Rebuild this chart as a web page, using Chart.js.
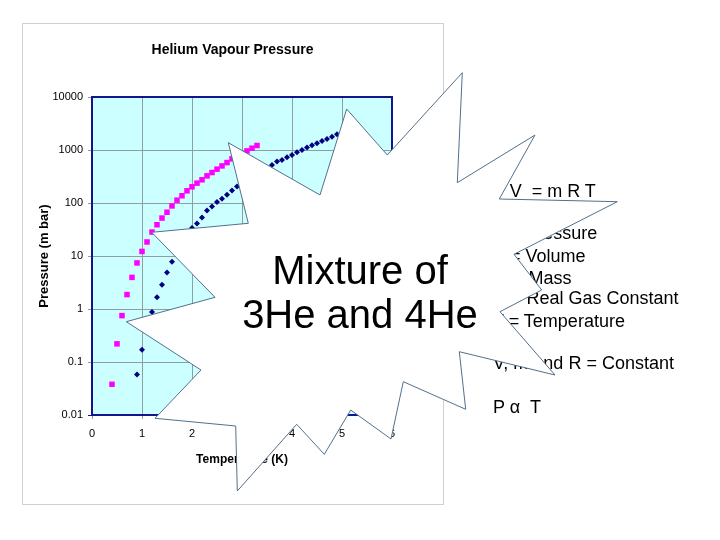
<!DOCTYPE html>
<html><head><meta charset="utf-8">
<script src="https://cdn.jsdelivr.net/npm/chart.js@4.4.0/dist/chart.umd.min.js"></script>
<style>
html,body{margin:0;padding:0;background:#fff;}
body{width:720px;height:540px;position:relative;overflow:hidden;font-family:'Liberation Sans',Arial,sans-serif;}
#box{position:absolute;left:22px;top:23px;width:422px;height:482px;border:1.5px solid #d0d0d0;box-sizing:border-box;}
#c{position:absolute;left:0;top:0;}
.t{position:absolute;white-space:pre;color:#000;}
#title{left:0;width:465px;text-align:center;top:42.4px;font-size:14px;line-height:14px;font-weight:bold;}
.r{left:493px;font-size:18px;line-height:21.6px;}
#star{position:absolute;left:0;top:0;}
.m{left:160px;width:400px;text-align:center;font-size:40px;line-height:40px;}
</style>
</head><body>
<div id="box"></div>
<canvas id="c" width="720" height="540"></canvas>
<div class="t" id="title">Helium Vapour Pressure</div>
<div class="t r" style="top:181px">P V  = m R T</div>
<div class="t r" style="top:223px">P = Pressure</div>
<div class="t r" style="top:245.7px">V = Volume</div>
<div class="t r" style="top:267.7px">m = Mass</div>
<div class="t r" style="top:288.2px">R = Real Gas Constant</div>
<div class="t r" style="top:310.7px">T = Temperature</div>
<div class="t r" style="top:353.4px">V, m and R = Constant</div>
<div class="t r" style="top:397.2px">P α  T</div>
<svg id="star" width="720" height="540"><polygon fill="#ffffff" stroke="#52708c" stroke-width="1" points="228.3,142.7 320,195 346.7,109 387.3,155 462.3,72.7 457.3,182.7 535,135 499.3,199 617.3,201.7 514,254.3 541.7,290 500,311.7 555,375 459.3,351.7 465.7,409.3 403.3,381.7 391,439 350.7,410 324.3,454.3 296.7,424.3 237.3,491 235.7,426 155,418.3 201,370 126.3,321.7 215,297.3 151.7,232.3 248.3,223.3"/></svg>
<div class="t m" style="top:250.4px">Mixture of</div>
<div class="t m" style="top:293.9px">3He and 4He</div>
<script>
// Helium-3 (magenta squares)
const he3Temp = [0.4,0.5,0.6,0.7,0.8,0.9,1.0,1.1,1.2,1.3,1.4,1.5,1.6,1.7,1.8,1.9,2.0,2.1,2.2,2.3,2.4,2.5,2.6,2.7,2.8,3.1,3.2,3.3];
const he3Pres = [0.038,0.22,0.75,1.87,3.95,7.4,12.2,18.4,28.3,38.9,52,67,88,113,137,170,202,237,274,325,376,435,501,579,680,962,1081,1216];
// Helium-4 (navy diamonds)
const he4Temp = [0.9,1.0,1.2,1.3,1.4,1.5,1.6,2.0,2.1,2.2,2.3,2.4,2.5,2.6,2.7,2.8,2.9,3.6,3.7,3.8,3.9,4.0,4.1,4.2,4.3,4.4,4.5,4.6,4.7,4.8,4.9];
const he4Pres = [0.058,0.17,0.88,1.66,2.88,4.9,7.8,33.7,41,53,72,86,104,120,143,172,205,524,605,651,731,809,910,1000,1110,1230,1343,1483,1618,1786,1982];
// Axis ticks
const yTickValues = [0.01,0.1,1,10,100,1000,10000];
const yTickLabels = ['0.01','0.1','1','10','100','1000','10000'];
const xTickValues = [0,1,2,3,4,5,6];
const xTickLabels = ['0','1','2','3','4','5','6'];

const NAVY = '#14148c';
const GRID = '#8f9f9f';
Chart.defaults.font.family = "'Liberation Sans', Arial, sans-serif";
Chart.defaults.color = '#000';

const plotBg = {
  id: 'plotBg',
  beforeDraw(chart) {
    const {ctx, chartArea: a} = chart;
    ctx.save();
    ctx.fillStyle = '#ccffff';
    ctx.fillRect(a.left, a.top, a.right - a.left, a.bottom - a.top);
    ctx.restore();
  },
  beforeDatasetsDraw(chart) {
    const {ctx, chartArea: a} = chart;
    ctx.save();
    ctx.strokeStyle = NAVY;
    ctx.lineWidth = 2;
    ctx.strokeRect(a.left, a.top, a.right - a.left, a.bottom - a.top);
    ctx.restore();
  }
};

new Chart(document.getElementById('c'), {
  type: 'scatter',
  data: {
    datasets: [
      {
        label: '3He',
        data: he3Temp.map((t, i) => ({x: t, y: he3Pres[i]})),
        pointStyle: 'rect', pointRadius: 3.9, pointHoverRadius: 3.9,
        backgroundColor: '#ff00ff', borderColor: '#ff00ff', borderWidth: 0
      },
      {
        label: '4He',
        data: he4Temp.map((t, i) => ({x: t, y: he4Pres[i]})),
        pointStyle: 'rectRot', pointRadius: 3, pointHoverRadius: 3,
        backgroundColor: '#000080', borderColor: '#000080', borderWidth: 0
      }
    ]
  },
  options: {
    responsive: false,
    animation: false,
    devicePixelRatio: 1,
    layout: {padding: {left: 32, right: 328, top: 97, bottom: 65}},
    plugins: {legend: {display: false}, tooltip: {enabled: false}, title: {display: false}},
    scales: {
      x: {
        type: 'linear', min: 0, max: 6,
        afterFit: s => { s.height = 60; },
        afterBuildTicks: s => { s.ticks = xTickValues.map(v => ({value: v})); },
        ticks: {font: {size: 11}, padding: 8, callback: v => xTickLabels[xTickValues.indexOf(v)]},
        grid: {color: GRID, lineWidth: 1, tickLength: 4, tickColor: GRID},
        border: {display: false},
        title: {display: true, text: 'Temperature (K)', font: {size: 12, weight: 'bold'}, padding: {top: 0, bottom: 8}}
      },
      y: {
        type: 'logarithmic', min: 0.01, max: 10000,
        afterFit: s => { s.width = 60; },
        afterBuildTicks: s => { s.ticks = yTickValues.map(v => ({value: v})); },
        ticks: {font: {size: 11}, padding: 5, callback: v => yTickLabels[yTickValues.indexOf(v)]},
        grid: {color: GRID, lineWidth: 1, tickLength: 4, tickColor: c => (c.tick && c.tick.value === 0.01) ? NAVY : GRID},
        border: {display: false},
        title: {display: true, text: 'Pressure (m bar)', font: {size: 13, weight: 'bold'}, padding: {top: 5, bottom: 0}}
      }
    }
  },
  plugins: [plotBg]
});
</script>
</body></html>
